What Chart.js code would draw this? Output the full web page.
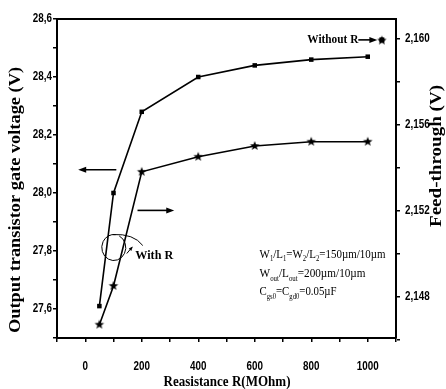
<!DOCTYPE html>
<html>
<head>
<meta charset="utf-8">
<script src="https://cdn.jsdelivr.net/npm/chart.js@4/dist/chart.umd.min.js"></script>
<style>
html,body{margin:0;padding:0;background:#fff;}
canvas{display:block;}
</style>
</head>
<body>
<canvas id="c" width="446" height="389"></canvas>
<script>
// ---- data ----
const resistance   = [50, 100, 200, 400, 600, 800, 1000];            // MOhm
const gateVoltage  = [27.61, 28.00, 28.28, 28.40, 28.44, 28.46, 28.47]; // V (left axis)
const feedThrough  = [2.1467, 2.1485, 2.1538, 2.1545, 2.1550, 2.1552, 2.1552]; // V (right axis)
const withoutRX    = [1050];
const withoutRGate = [28.528];
const withoutRFeed = [2.1599];

const xMajorTicks  = [0, 200, 400, 600, 800, 1000];
const xMinorTicks  = [-100, 100, 300, 500, 700, 900, 1100];
const leftMajorTicks  = [27.6, 27.8, 28.0, 28.2, 28.4, 28.6];
const leftMinorTicks  = [27.5, 27.7, 27.9, 28.1, 28.3, 28.5];
const rightMajorTicks = [2.148, 2.152, 2.156, 2.160];
const rightMinorTicks = [2.146, 2.150, 2.154, 2.158];

const xTitle = 'Reasistance R(MOhm)';
const leftTitle = 'Output transistor gate voltage (V)';
const rightTitle = 'Feed-through (V)';

// annotation anchors in data units
const notes = {
  leftArrow:  {x1: 110, x2: -25, y: 28.08},
  rightArrow: {x1: 185, x2: 315, y: 27.94},
  loop:       {x: 101, y: 27.812},
  withR:      {x: 177, y: 27.783},
  withoutR:   {x: 786, y: 28.528, arrowTo: 1034},
  params:     {x: 617, y: [27.789, 27.723, 27.660]}
};

const SERIF = '"Liberation Serif", "Times New Roman", serif';
const SANS = '"Liberation Sans", Arial, sans-serif';

function makeStar(r){
  const s=Math.ceil(r*2+2); const c=document.createElement('canvas'); c.width=c.height=s;
  const g=c.getContext('2d'); g.beginPath();
  for(let i=0;i<10;i++){const a=-Math.PI/2+i*Math.PI/5; const rr=(i%2)?r*0.42:r; g.lineTo(s/2+rr*Math.cos(a), s/2+rr*Math.sin(a));}
  g.closePath(); g.fillStyle='#000'; g.fill(); return c;
}
const star = makeStar(5);

const near=(a,b)=>Math.abs(a-b)<1e-7;
function setTicks(list){ return (scale)=>{ scale.ticks = list.slice().sort((a,b)=>a-b).map(v=>({value:v})); }; }

function fitText(ctx, text, cx, cy, width, font, rot){
  ctx.save(); ctx.font=font; const w=ctx.measureText(text).width;
  ctx.translate(cx,cy); if(rot) ctx.rotate(rot); ctx.scale(width/w,1);
  ctx.textAlign='center'; ctx.textBaseline='middle'; ctx.fillStyle='#000'; ctx.fillText(text,0,0); ctx.restore();
}
function narrowText(ctx, text, x, y, align){
  // bold sans, horizontally condensed like Arial Narrow
  ctx.save(); ctx.font='bold 12px '+SANS; const w=ctx.measureText(text).width*0.82;
  let left = align==='right' ? x-w : align==='center' ? x-w/2 : x;
  ctx.translate(left,y); ctx.scale(0.82,1); ctx.textAlign='left'; ctx.textBaseline='middle'; ctx.fillStyle='#000';
  ctx.fillText(text,0,0); ctx.restore();
}
function drawSegmentsPlain(ctx, segs, x, y, width, size){
  ctx.save();
  const big=size+'px '+SERIF, small=Math.round(size*0.6)+'px '+SERIF;
  let tot=0; segs.forEach(s=>{ctx.font=s[1]?small:big; tot+=ctx.measureText(s[0]).width;});
  ctx.translate(x,y); ctx.scale(width/tot,1); ctx.textBaseline='middle'; ctx.textAlign='left'; ctx.fillStyle='#000';
  let cx=0; segs.forEach(s=>{ctx.font=s[1]?small:big; ctx.fillText(s[0],cx,s[1]?size*0.4:0); cx+=ctx.measureText(s[0]).width;});
  ctx.restore();
}
function arrow(ctx,x1,y,x2){
  const d=Math.sign(x2-x1);
  ctx.beginPath(); ctx.moveTo(x1,y); ctx.lineTo(x2-d*6,y); ctx.lineWidth=1.6; ctx.stroke();
  ctx.beginPath(); ctx.moveTo(x2,y); ctx.lineTo(x2-d*8,y-3); ctx.lineTo(x2-d*8,y+3); ctx.closePath(); ctx.fill();
}

const decor = {
  id:'decor',
  afterDraw(chart){
    const ctx=chart.ctx, a=chart.chartArea, X=chart.scales.x, Y=chart.scales.y, Y1=chart.scales.y1;
    ctx.save(); ctx.strokeStyle='#000'; ctx.fillStyle='#000';
    // top frame
    ctx.lineWidth=2; ctx.beginPath(); ctx.moveTo(a.left-1,a.top); ctx.lineTo(a.right+1,a.top); ctx.stroke();
    // tick labels (positioned by the library's scales)
    xMajorTicks.forEach(v=>narrowText(ctx, String(v), X.getPixelForValue(v), a.bottom+29, 'center'));
    leftMajorTicks.forEach(v=>narrowText(ctx, v.toFixed(1).replace('.',','), a.left-5, Y.getPixelForValue(v), 'right'));
    rightMajorTicks.forEach(v=>narrowText(ctx, v.toFixed(3).replace('.',','), a.right+9, Y1.getPixelForValue(v), 'left'));
    // titles
    fitText(ctx, leftTitle, 16, 200, 266, 'bold 16px '+SERIF, -Math.PI/2);
    fitText(ctx, rightTitle, 437, 156, 142, 'bold 16px '+SERIF, -Math.PI/2);
    fitText(ctx, xTitle, 227, 382, 127, 'bold 15px '+SERIF, 0);
    // arrows
    arrow(ctx, X.getPixelForValue(notes.leftArrow.x1), Y.getPixelForValue(notes.leftArrow.y), X.getPixelForValue(notes.leftArrow.x2));
    arrow(ctx, X.getPixelForValue(notes.rightArrow.x1), Y.getPixelForValue(notes.rightArrow.y), X.getPixelForValue(notes.rightArrow.x2));
    // loop
    const lx=X.getPixelForValue(notes.loop.x), ly=Y.getPixelForValue(notes.loop.y);
    ctx.lineWidth=1;
    ctx.beginPath(); ctx.ellipse(lx,ly,12,13,0,-Math.PI*0.35,Math.PI*1.55); ctx.stroke();
    ctx.beginPath(); ctx.moveTo(lx-1,ly-13); ctx.quadraticCurveTo(lx+20,ly-14,lx+29,ly-2); ctx.stroke();
    ctx.beginPath(); ctx.moveTo(lx+13,ly+6); ctx.lineTo(lx+18,ly); ctx.stroke();
    ctx.beginPath(); ctx.moveTo(lx+19,ly-1); ctx.lineTo(lx+15,ly+1); ctx.lineTo(lx+17.5,ly+3.5); ctx.closePath(); ctx.fill();
    // labels
    ctx.save(); ctx.font='bold 13px '+SERIF; const wr=ctx.measureText('With R').width;
    ctx.translate(X.getPixelForValue(notes.withR.x), Y.getPixelForValue(notes.withR.y)); ctx.scale(38/wr,1);
    ctx.textBaseline='middle'; ctx.fillText('With R',0,0); ctx.restore();
    const wx=X.getPixelForValue(notes.withoutR.x), wy=Y.getPixelForValue(notes.withoutR.y);
    ctx.save(); ctx.font='bold 13px '+SERIF; const wo=ctx.measureText('Without R').width;
    ctx.translate(wx,wy); ctx.scale(51/wo,1); ctx.textBaseline='middle'; ctx.fillText('Without R',0,0); ctx.restore();
    arrow(ctx, wx+51, wy, X.getPixelForValue(notes.withoutR.arrowTo));
    // parameters
    const px=X.getPixelForValue(notes.params.x);
    const py=notes.params.y.map(v=>Y.getPixelForValue(v));
    drawSegmentsPlain(ctx, [['W',0],['1',1],['/L',0],['1',1],['=W',0],['2',1],['/L',0],['2',1],['=150\u00b5m/10\u00b5m',0]], px, py[0], 126, 13);
    drawSegmentsPlain(ctx, [['W',0],['out',1],['/L',0],['out',1],['=200\u00b5m/10\u00b5m',0]], px, py[1], 106, 13);
    drawSegmentsPlain(ctx, [['C',0],['gs0',1],['=C',0],['gd0',1],['=0.05\u00b5F',0]], px, py[2], 77, 13);
    ctx.restore();
  }
};

const pts=(xs,ys)=>xs.map((x,i)=>({x, y:ys[i]}));
const gridOpts = {drawOnChartArea:false, drawTicks:true, tickLength:4, color:'#000', lineWidth:1.5};
const borderOpts = {display:true, color:'#000', width:2};

new Chart(document.getElementById('c'), {
  type:'scatter',
  data:{datasets:[
    {data:pts(resistance,gateVoltage), yAxisID:'y', showLine:true, borderColor:'#000', backgroundColor:'#000', borderWidth:1.6, pointStyle:'rect', pointRadius:3.2, pointBorderWidth:0},
    {data:pts(resistance,feedThrough), yAxisID:'y1', showLine:true, borderColor:'#000', backgroundColor:'#000', borderWidth:1.6, pointStyle:star, pointRadius:5},
    {data:pts(withoutRX,withoutRGate), yAxisID:'y', showLine:false, borderColor:'#000', backgroundColor:'#000', pointStyle:'rect', pointRadius:3.5, pointBorderWidth:0},
    {data:pts(withoutRX,withoutRFeed), yAxisID:'y1', showLine:false, pointStyle:star, pointRadius:5}
  ]},
  options:{
    responsive:false, devicePixelRatio:1, animation:false,
    layout:{padding:{top:19, left:0, right:0, bottom:0}},
    plugins:{legend:{display:false}, tooltip:{enabled:false}},
    scales:{
      x:{type:'linear', position:'bottom', min:-100, max:1100,
        afterBuildTicks:setTicks(xMajorTicks.concat(xMinorTicks)),
        afterFit:(s)=>{s.height=51;},
        grid:gridOpts, border:borderOpts,
        ticks:{display:false}
      },
      y:{type:'linear', position:'left', min:27.5, max:28.6,
        afterBuildTicks:setTicks(leftMajorTicks.concat(leftMinorTicks)),
        afterFit:(s)=>{s.width=57;},
        grid:gridOpts, border:borderOpts,
        ticks:{display:false}
      },
      y1:{type:'linear', position:'right', min:2.14608, max:2.1609,
        afterBuildTicks:setTicks(rightMajorTicks.concat(rightMinorTicks)),
        afterFit:(s)=>{s.width=50;},
        grid:gridOpts, border:borderOpts,
        ticks:{display:false}
      }
    }
  },
  plugins:[decor]
});
</script>
</body>
</html>
